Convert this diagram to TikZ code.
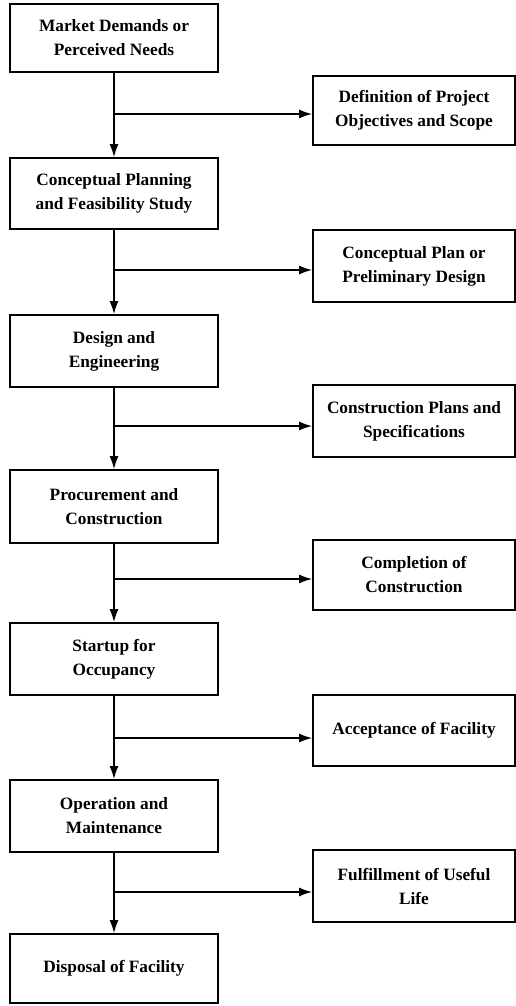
\documentclass[tikz,border=0pt]{standalone}
\usepackage{fontspec}
\setmainfont{Liberation Serif}
\usetikzlibrary{arrows.meta}
\begin{document}
\begin{tikzpicture}[x=1pt,y=-1pt,
  box/.style={draw=black, line width=1.8pt, align=center, inner sep=0pt,
    font=\fontsize{17.3}{24}\selectfont\bfseries},
  lbox/.style={box, minimum width=208pt},
  rbox/.style={box, minimum width=202pt},
  arr/.style={line width=1.4pt, -{Latex[length=13pt,width=9pt]}}]
\useasboundingbox (0,0) rectangle (516,1006);
\node[lbox, minimum height=68pt] (b1) at (114,38) {Market Demands or\\Perceived Needs};
\node[lbox, minimum height=71pt] (b2) at (114,193.5) {Conceptual Planning\\and Feasibility Study};
\node[lbox, minimum height=72pt] (b3) at (114,351) {Design and\\Engineering};
\node[lbox, minimum height=73pt] (b4) at (114,506.5) {Procurement and\\Construction};
\node[lbox, minimum height=72pt] (b5) at (114,659) {Startup for\\Occupancy};
\node[lbox, minimum height=72pt] (b6) at (114,816) {Operation and\\Maintenance};
\node[lbox, minimum height=69pt] (b7) at (114,968.5) {Disposal of Facility};
\node[rbox, minimum height=69pt] (r1) at (414,110.5) {Definition of Project\\Objectives and Scope};
\node[rbox, minimum height=72pt] (r2) at (414,266) {Conceptual Plan or\\Preliminary Design};
\node[rbox, minimum height=72pt] (r3) at (414,421) {Construction Plans and\\Specifications};
\node[rbox, minimum height=70pt] (r4) at (414,575) {Completion of\\Construction};
\node[rbox, minimum height=71pt] (r5) at (414,730.5) {Acceptance of Facility};
\node[rbox, minimum height=72pt] (r6) at (414,886) {Fulfillment of Useful\\Life};
\coordinate (j1) at (114,114);
\coordinate (j2) at (114,270);
\coordinate (j3) at (114,426);
\coordinate (j4) at (114,579);
\coordinate (j5) at (114,738);
\coordinate (j6) at (114,892);
\draw[arr] (b1.south) -- (b2.north);
\draw[arr] (b2.south) -- (b3.north);
\draw[arr] (b3.south) -- (b4.north);
\draw[arr] (b4.south) -- (b5.north);
\draw[arr] (b5.south) -- (b6.north);
\draw[arr] (b6.south) -- (b7.north);
\draw[arr] (j1) -- (j1 -| r1.west);
\draw[arr] (j2) -- (j2 -| r2.west);
\draw[arr] (j3) -- (j3 -| r3.west);
\draw[arr] (j4) -- (j4 -| r4.west);
\draw[arr] (j5) -- (j5 -| r5.west);
\draw[arr] (j6) -- (j6 -| r6.west);
\end{tikzpicture}
\end{document}
